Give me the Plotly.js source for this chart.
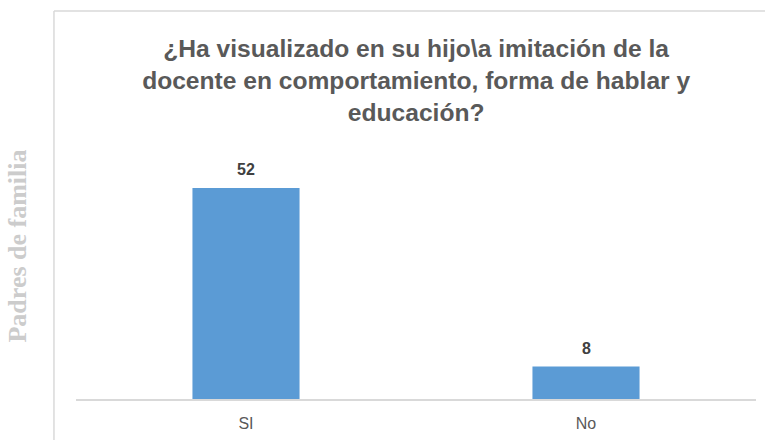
<!DOCTYPE html>
<html>
<head>
<meta charset="utf-8">
<script src="https://cdn.plot.ly/plotly-3.0.1.min.js"></script>
<style>html,body{margin:0;padding:0;background:#fff;}#chart{width:765px;height:440px;}</style>
</head>
<body>
<div id="chart"></div>
<script>
const categories = ["SI", "No"];
const values = [52, 8];
const valueLabels = ["52", "8"];
const chartTitle = "¿Ha visualizado en su hijo\\a imitación de la<br>docente en comportamiento, forma de hablar y<br>educación?";
const yTitle = "Padres de familia";

const narrow = "'Liberation Sans Narrow', 'Arial Narrow', Arial, sans-serif";

const trace = {
  type: "bar",
  x: categories,
  y: values,
  marker: {color: "#5B9BD5", line: {width: 0}},
  width: 0.315,
  hoverinfo: "x+y"
};

const labelAnnotations = categories.map((c, i) => ({
  x: c, y: values[i], xref: "x", yref: "y",
  text: "<b>" + valueLabels[i] + "</b>",
  showarrow: false, yanchor: "bottom", yshift: 8,
  font: {family: narrow, size: 16, color: "#404040"}
}));

const layout = {
  width: 765,
  height: 440,
  margin: {l: 76, r: 9, t: 93, b: 41},
  paper_bgcolor: "#ffffff",
  plot_bgcolor: "#ffffff",
  showlegend: false,
  title: {
    text: chartTitle,
    font: {family: narrow, size: 24.6, color: "#595959", weight: "bold"},
    x: 0.544, xanchor: "center",
    y: 0.87, yanchor: "top",
    xref: "container", yref: "container"
  },
  xaxis: {
    type: "category",
    showgrid: false,
    zeroline: false,
    showline: true,
    linecolor: "#d9d9d9",
    linewidth: 1.5,
    ticks: "",
    ticklabelstandoff: 9,
    tickfont: {family: narrow, size: 16, color: "#595959"},
    fixedrange: true
  },
  yaxis: {
    range: [0, 75.4],
    showgrid: false,
    zeroline: false,
    showline: false,
    showticklabels: false,
    ticks: "",
    title: {text: yTitle, font: {family: "'Liberation Serif', 'Times New Roman', serif", size: 26, color: "#cccccc", weight: "bold"}, standoff: 40},
    fixedrange: true
  },
  annotations: labelAnnotations,
  shapes: [
    {type: "line", xref: "paper", yref: "paper", x0: -0.0324, x1: -0.0324, y0: -0.15, y1: 1.268, line: {color: "#d9d9d9", width: 1.5}},
    {type: "line", xref: "paper", yref: "paper", x0: -0.0324, x1: 1.02, y0: 1.268, y1: 1.268, line: {color: "#d9d9d9", width: 1.5}}
  ]
};

Plotly.newPlot("chart", [trace], layout, {displayModeBar: false});
</script>
</body>
</html>
